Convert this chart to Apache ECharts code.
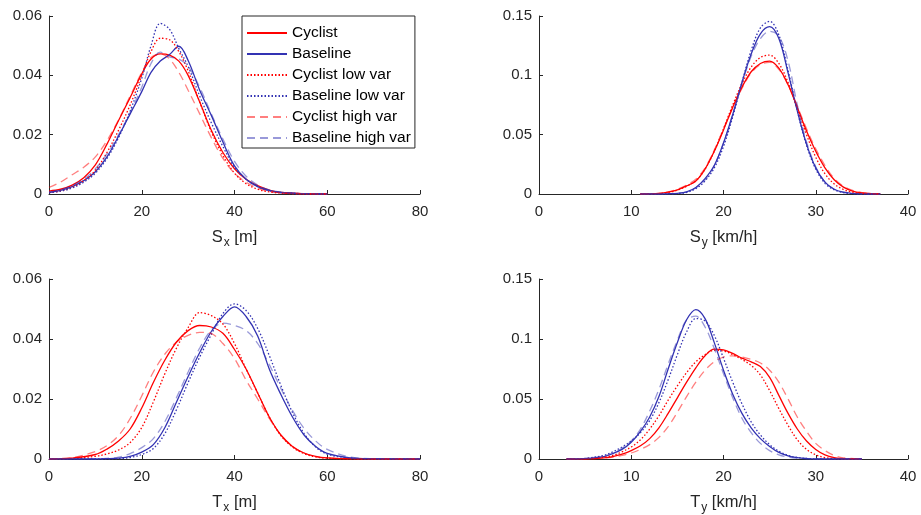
<!DOCTYPE html>
<html>
<head>
<meta charset="utf-8">
<script src="https://cdn.jsdelivr.net/npm/echarts@6/dist/echarts.min.js"></script>
<style>
  html, body { margin: 0; padding: 0; background: #fff; }
  #chart { width: 921px; height: 515px; }
</style>
</head>
<body>
<div id="chart"></div>
<script>
// Kernel density estimates of the four scenario parameters.

const seriesNames = ['Cyclist', 'Baseline', 'Cyclist low var', 'Baseline low var', 'Cyclist high var', 'Baseline high var'];

// S_x [m]
const sxX = [0, 2.5, 5, 7.5, 10, 12.5, 15, 17.5, 20, 22, 24, 26, 28, 30, 32.5, 35, 37.5, 40, 42.5, 45, 47.5, 50, 55, 60];
const sxCyclist      = [0.0010,0.0016,0.0030,0.0055,0.0098,0.0168,0.0248,0.0325,0.0405,0.0455,0.0472,0.0468,0.0448,0.0400,0.0310,0.0215,0.0140,0.0085,0.0050,0.0028,0.0013,0.0005,0.0001,0];
const sxBaseline     = [0.0005,0.0012,0.0025,0.0045,0.0075,0.0125,0.0195,0.0270,0.0345,0.0410,0.0448,0.0470,0.0498,0.0450,0.0350,0.0265,0.0175,0.0095,0.0050,0.0025,0.0012,0.0005,0.0001,0];
const sxCyclistLow   = [0.0005,0.0010,0.0022,0.0045,0.0080,0.0140,0.0215,0.0300,0.0400,0.0480,0.0525,0.0520,0.0480,0.0415,0.0310,0.0210,0.0130,0.0070,0.0035,0.0016,0.0007,0.0003,0,0];
const sxBaselineLow  = [0.0004,0.0010,0.0020,0.0040,0.0070,0.0120,0.0190,0.0280,0.0390,0.0500,0.0575,0.0555,0.0490,0.0430,0.0330,0.0240,0.0160,0.0090,0.0050,0.0025,0.0011,0.0005,0.0001,0];
const sxCyclistHigh  = [0.0022,0.0040,0.0065,0.0090,0.0125,0.0180,0.0250,0.0330,0.0410,0.0460,0.0472,0.0455,0.0410,0.0350,0.0270,0.0190,0.0120,0.0070,0.0040,0.0020,0.0009,0.0004,0.0001,0];
const sxBaselineHigh = [0.0006,0.0014,0.0028,0.0050,0.0085,0.0135,0.0200,0.0275,0.0360,0.0440,0.0478,0.0462,0.0455,0.0430,0.0360,0.0270,0.0185,0.0110,0.0060,0.0030,0.0014,0.0006,0.0001,0];

// S_y [km/h]
const syX = [11, 13, 14, 15, 16, 17, 18, 19, 20, 21, 22, 23, 24, 25, 26, 27, 28, 29, 30, 31, 32, 33, 34, 35, 36, 37];
const syCyclist      = [0,0.0005,0.0015,0.0035,0.0068,0.011,0.021,0.036,0.054,0.073,0.090,0.103,0.110,0.112,0.106,0.092,0.073,0.053,0.036,0.022,0.012,0.0058,0.0025,0.001,0.0004,0.0001];
const syBaseline     = [0,0,0.0002,0.0006,0.0018,0.0055,0.013,0.024,0.043,0.067,0.094,0.118,0.135,0.141,0.131,0.102,0.070,0.042,0.022,0.010,0.004,0.0015,0.0005,0.0001,0,0];
const syCyclistLow   = [0,0.0004,0.0013,0.0032,0.0065,0.011,0.021,0.036,0.055,0.075,0.093,0.107,0.115,0.117,0.110,0.094,0.072,0.050,0.031,0.017,0.0085,0.0038,0.0015,0.0005,0.0002,0];
const syBaselineLow  = [0,0,0.0001,0.0004,0.0013,0.0045,0.011,0.022,0.040,0.065,0.094,0.121,0.140,0.1455,0.134,0.104,0.070,0.041,0.021,0.009,0.0035,0.0012,0.0003,0,0,0];
const syCyclistHigh  = [0,0.0006,0.0018,0.004,0.0075,0.0125,0.022,0.037,0.055,0.073,0.089,0.102,0.109,0.111,0.105,0.092,0.074,0.055,0.038,0.024,0.013,0.0065,0.003,0.0012,0.0004,0.0001];
const syBaselineHigh = [0,0,0.0002,0.0006,0.0018,0.005,0.012,0.024,0.043,0.067,0.093,0.116,0.131,0.137,0.133,0.112,0.075,0.044,0.023,0.010,0.004,0.0014,0.0004,0,0,0];

// T_x [m]
const txX = [0, 5, 10, 12.5, 15, 17.5, 20, 22.5, 25, 27.5, 30, 32.5, 35, 37.5, 40, 42.5, 45, 47.5, 50, 52.5, 55, 57.5, 60, 65, 70, 80];
const txCyclist      = [0,0.0003,0.0015,0.0033,0.0060,0.0100,0.0170,0.0255,0.0330,0.0390,0.0428,0.0445,0.0440,0.0419,0.0365,0.0300,0.0220,0.0140,0.0080,0.0042,0.0020,0.0009,0.0004,0.0001,0,0];
const txBaseline     = [0,0,0,0.0001,0.0003,0.0009,0.0023,0.0048,0.0105,0.0190,0.0275,0.0355,0.0425,0.0475,0.0507,0.0475,0.0410,0.0300,0.0215,0.0140,0.0080,0.0042,0.0019,0.0004,0.0001,0];
const txCyclistLow   = [0,0.0002,0.0009,0.0017,0.0030,0.0055,0.0105,0.0190,0.0285,0.0370,0.0438,0.0488,0.0478,0.0450,0.0385,0.0300,0.0220,0.0140,0.0078,0.0040,0.0018,0.0007,0.0003,0,0,0];
const txBaselineLow  = [0,0,0,0,0.0001,0.0005,0.0015,0.0035,0.0085,0.0165,0.0255,0.0340,0.0415,0.0485,0.0517,0.0495,0.0435,0.0345,0.0245,0.0155,0.0085,0.0040,0.0016,0.0003,0,0];
const txCyclistHigh  = [0,0.0005,0.0025,0.0045,0.0078,0.0135,0.0210,0.0290,0.0350,0.0390,0.0412,0.0422,0.0418,0.0385,0.0335,0.0263,0.0200,0.0135,0.0080,0.0042,0.0020,0.0008,0.0003,0,0,0];
const txBaselineHigh = [0,0,0,0.0002,0.0006,0.0018,0.0038,0.0068,0.0125,0.0205,0.0290,0.0370,0.0430,0.0453,0.0445,0.0428,0.0385,0.0315,0.0235,0.0162,0.0102,0.0060,0.0032,0.0006,0.0001,0];

// T_y [km/h]
const tyX = [3, 5, 7, 8, 9, 10, 11, 12, 13, 14, 15, 16, 17, 18, 19, 20, 21, 22, 23, 24, 25, 26, 27, 28, 29, 30, 31, 32, 33, 35];
const tyCyclist      = [0,0,0.001,0.002,0.004,0.007,0.011,0.017,0.026,0.038,0.051,0.064,0.076,0.086,0.0915,0.091,0.088,0.084,0.081,0.077,0.068,0.053,0.038,0.025,0.015,0.008,0.0035,0.0012,0.0003,0];
const tyBaseline     = [0,0.0003,0.002,0.0045,0.008,0.014,0.023,0.035,0.052,0.075,0.097,0.116,0.1245,0.117,0.097,0.074,0.054,0.038,0.026,0.017,0.0105,0.0055,0.0027,0.0012,0.0004,0,0,0,0,0];
const tyCyclistLow   = [0,0.0003,0.0015,0.003,0.006,0.010,0.016,0.025,0.036,0.049,0.061,0.072,0.081,0.087,0.0905,0.090,0.087,0.083,0.078,0.070,0.057,0.042,0.028,0.016,0.008,0.0035,0.0012,0.0003,0,0];
const tyBaselineLow  = [0,0.0005,0.003,0.006,0.010,0.015,0.022,0.032,0.047,0.066,0.087,0.106,0.117,0.115,0.103,0.084,0.064,0.046,0.031,0.020,0.012,0.0065,0.003,0.0013,0.0004,0,0,0,0,0];
const tyCyclistHigh  = [0,0,0.0008,0.0015,0.003,0.005,0.008,0.012,0.018,0.027,0.039,0.052,0.064,0.074,0.081,0.085,0.086,0.085,0.083,0.080,0.074,0.064,0.050,0.035,0.023,0.013,0.007,0.003,0.001,0];
const tyBaselineHigh = [0,0.0005,0.0025,0.005,0.009,0.015,0.025,0.040,0.058,0.079,0.099,0.116,0.119,0.110,0.092,0.071,0.051,0.034,0.022,0.013,0.007,0.0035,0.0015,0.0005,0,0,0,0,0,0];

// Axis ranges and tick steps per panel
const xMax = [80, 40, 80, 40];
const xStep = [20, 10, 20, 10];
const yMax = [0.06, 0.15, 0.06, 0.15];
const yStep = [0.02, 0.05, 0.02, 0.05];
const axisSymbol = ['S', 'S', 'T', 'T'];
const axisSub = ['x', 'y', 'x', 'y'];
const axisUnit = ['[m]', '[km/h]', '[m]', '[km/h]'];

const panels = [
  { x: sxX, ys: [sxCyclist, sxBaseline, sxCyclistLow, sxBaselineLow, sxCyclistHigh, sxBaselineHigh] },
  { x: syX, ys: [syCyclist, syBaseline, syCyclistLow, syBaselineLow, syCyclistHigh, syBaselineHigh] },
  { x: txX, ys: [txCyclist, txBaseline, txCyclistLow, txBaselineLow, txCyclistHigh, txBaselineHigh] },
  { x: tyX, ys: [tyCyclist, tyBaseline, tyCyclistLow, tyBaselineLow, tyCyclistHigh, tyBaselineHigh] }
];

const FONT = '"Liberation Sans", Arial, Helvetica, sans-serif';
const INK = '#262626';
const RED = '#ff0000';
const BLUE = '#3333b3';
const lineLook = [
  { color: RED, type: 'solid' },
  { color: BLUE, type: 'solid' },
  { color: RED, type: [1.5, 2] },
  { color: BLUE, type: [1.5, 2] },
  { color: 'rgba(255,0,0,0.5)', type: [8, 5] },
  { color: 'rgba(51,51,179,0.5)', type: [8, 5] }
];

const grids = [
  { left: 49, top: 16, width: 371, height: 178 },
  { left: 539, top: 16, width: 369, height: 178 },
  { left: 49, top: 279, width: 371, height: 180 },
  { left: 539, top: 279, width: 369, height: 180 }
];

const xAxes = grids.map((g, i) => ({
  type: 'value', gridIndex: i, min: 0, max: xMax[i], interval: xStep[i],
  axisLine: { show: true, lineStyle: { color: INK, width: 1 } },
  axisTick: { show: true, inside: true, length: 4, lineStyle: { color: INK } },
  axisLabel: { color: INK, fontSize: 15, fontFamily: FONT, margin: 10 },
  splitLine: { show: false },
  name: '{m|' + axisSymbol[i] + '}{s|' + axisSub[i] + '}{m| ' + axisUnit[i] + '}',
  nameLocation: 'middle', nameGap: 35,
  nameTextStyle: {
    rich: {
      m: { fontSize: 16.5, fontFamily: FONT, color: INK, lineHeight: 20, verticalAlign: 'top' },
      s: { fontSize: 12, fontFamily: FONT, color: INK, lineHeight: 12, padding: [13, 0, 0, 1], verticalAlign: 'bottom' }
    }
  }
}));

const yAxes = grids.map((g, i) => ({
  type: 'value', gridIndex: i, min: 0, max: yMax[i], interval: yStep[i],
  axisLine: { show: true, lineStyle: { color: INK, width: 1 } },
  axisTick: { show: true, inside: true, length: 4, lineStyle: { color: INK } },
  axisLabel: { color: INK, fontSize: 15, fontFamily: FONT, margin: 7 },
  splitLine: { show: false }
}));

const series = [];
panels.forEach((p, pi) => {
  p.ys.forEach((vals, si) => {
    series.push({
      type: 'line', name: seriesNames[si], xAxisIndex: pi, yAxisIndex: pi,
      data: p.x.map((x, k) => [x, vals[k]]),
      smooth: 0.35, symbol: 'none', silent: true, animation: false,
      lineStyle: { color: lineLook[si].color, type: lineLook[si].type, width: 1.3 },
      itemStyle: { color: lineLook[si].color }
    });
  });
});

const chart = echarts.init(document.getElementById('chart'), null, { renderer: 'canvas' });
chart.setOption({
  backgroundColor: '#fff',
  animation: false,
  grid: grids,
  xAxis: xAxes,
  yAxis: yAxes,
  legend: {
    data: seriesNames, orient: 'vertical', left: 242, top: 16,
    itemWidth: 40, itemHeight: 14, itemGap: 5, padding: [9, 4, 2, 4],
    borderColor: INK, borderWidth: 1, backgroundColor: '#fff',
    itemStyle: { opacity: 0 },
    textStyle: { fontSize: 15.5, color: '#000', fontFamily: FONT },
    selectedMode: false
  },
  series: series
});
</script>
</body>
</html>
